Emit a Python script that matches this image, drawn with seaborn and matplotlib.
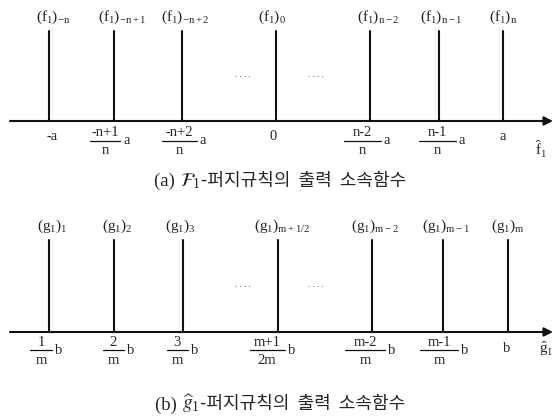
import matplotlib
matplotlib.use("Agg")
import matplotlib.pyplot as plt
from matplotlib.offsetbox import TextArea, HPacker, AnnotationBbox
import seaborn as sns
import pandas as pd

# ---- panel (a): output membership functions of the f1 fuzzy rules ----
f_names = [r"$(f_{1})_{-n}$", r"$(f_{1})_{-n+1}$", r"$(f_{1})_{-n+2}$", r"$(f_{1})_{0}$",
           r"$(f_{1})_{n-2}$", r"$(f_{1})_{n-1}$", r"$(f_{1})_{n}$"]
f_stem_x = [49, 114, 182, 276, 370, 439, 503]
# tick labels: numerator, denominator ('' = plain label), trailing factor
f_num = ["-a", "-n+1", "-n+2", "0", "n-2", "n-1", "a"]
f_den = ["", "n", "n", "", "n", "n", ""]
f_suffix = ["", "a", "a", "", "a", "a", ""]

# ---- panel (b): output membership functions of the g1 fuzzy rules ----
g_names = [r"$(g_{1})_{1}$", r"$(g_{1})_{2}$", r"$(g_{1})_{3}$", r"$(g_{1})_{m+1/2}$",
           r"$(g_{1})_{m-2}$", r"$(g_{1})_{m-1}$", r"$(g_{1})_{m}$"]
g_stem_x = [49, 114, 183, 278, 372, 443, 508]
g_num = ["1", "2", "3", "m+1", "m-2", "m-1", "b"]
g_den = ["m", "m", "m", "2m", "m", "m", ""]
g_suffix = ["b", "b", "b", "b", "b", "b", ""]

captions = [("(a) ", r"$\mathcal{F}_{1}$", "-퍼지규칙의  출력  소속함수"),
            ("(b) ", r"$\widehat{\mathit{g}}_{1}$", "-퍼지규칙의  출력  소속함수")]

sns.set_style("white")
plt.rcParams["font.family"] = ["Liberation Serif", "Noto Sans CJK KR"]
plt.rcParams["mathtext.fontset"] = "custom"
plt.rcParams["mathtext.rm"] = "Liberation Serif"
plt.rcParams["mathtext.it"] = "Liberation Serif:italic"
plt.rcParams["mathtext.bf"] = "Liberation Serif:bold"
plt.rcParams["mathtext.default"] = "regular"

W, H = 558, 418
INK = "#111111"
fig = plt.figure(figsize=(W / 100, H / 100), dpi=100)
ax = fig.add_axes([0, 0, 1, 1])
ax.set_xlim(0, W)
ax.set_ylim(H, 0)
ax.axis("off")

panels = [
    dict(names=f_names, xs=f_stem_x, num=f_num, den=f_den, suf=f_suffix,
         base=121, top=31,
         name_x=[53, 122, 185, 272, 378, 441, 503], name_y=17,
         frac_x=[52, 105, 179, 273, 362, 437, 503],
         frac_w=[0, 30, 35, 0, 37, 37, 0],
         num_y=133, bar_y=141, den_y=150, plain_y=137,
         var=r"$\hat{f}_{1}$", var_xy=(541, 149), cap_y=181),
    dict(names=g_names, xs=g_stem_x, num=g_num, den=g_den, suf=g_suffix,
         base=332, top=240,
         name_x=[52, 117, 180, 282, 375, 446, 508], name_y=226,
         frac_x=[41, 113, 177, 267, 365, 439, 507],
         frac_w=[22, 21, 21, 35, 40, 38, 0],
         num_y=342, bar_y=350, den_y=360, plain_y=349,
         var=r"$\hat{g}_{1}$", var_xy=(546, 349), cap_y=404),
]

for i, p in enumerate(panels):
    rows = []
    for k, x in enumerate(p["xs"]):
        rows.append(dict(stem=k, x=x, y=p["base"]))
        rows.append(dict(stem=k, x=x, y=p["top"]))
    df = pd.DataFrame(rows)
    sns.lineplot(data=df, x="x", y="y", units="stem", estimator=None,
                 color=INK, lw=1.5, ax=ax, legend=False)

    # horizontal axis with arrow head
    ax.annotate("", xy=(553, p["base"]), xytext=(10, p["base"]),
                arrowprops=dict(arrowstyle="-|>", lw=1.5, color=INK,
                                mutation_scale=13, shrinkA=0, shrinkB=0))

    for name, x in zip(p["names"], p["name_x"]):
        ax.text(x, p["name_y"], name, fontsize=11, ha="center", va="center")

    # tick labels below the axis, stacked fractions where needed
    for num, den, suf, cx, w in zip(p["num"], p["den"], p["suf"],
                                    p["frac_x"], p["frac_w"]):
        if not den:
            ax.text(cx, p["plain_y"], num, fontsize=10.5, ha="center", va="center")
            continue
        ax.text(cx, p["num_y"], num, fontsize=10.5, ha="center", va="center")
        ax.text(cx, p["den_y"], den, fontsize=10.5, ha="center", va="center")
        ax.plot([cx - w / 2, cx + w / 2], [p["bar_y"]] * 2, color=INK, lw=0.9)
        ax.text(cx + w / 2 + 3, p["bar_y"], suf, fontsize=10.5,
                ha="left", va="center")
    ax.text(*p["var_xy"], p["var"], fontsize=11, ha="center", va="center")

    mid = (p["base"] + p["top"]) / 2 - 1
    for dx in (243, 316):
        ax.text(dx, mid, ". . . .", fontsize=6.5, ha="center", va="center",
                color="#444444")

    pre, sym, kor = captions[i]
    box = HPacker(children=[
        TextArea(pre, textprops=dict(fontsize=13.5, family="Liberation Serif")),
        TextArea(sym, textprops=dict(fontsize=14, math_fontfamily="stix")),
        TextArea(kor, textprops=dict(fontsize=13,
                                     family=["Noto Sans CJK KR", "DejaVu Sans"])),
    ], pad=0, sep=0, align="baseline")
    ax.add_artist(AnnotationBbox(box, (280, p["cap_y"]), frameon=False,
                                 box_alignment=(0.5, 0.5), pad=0))

fig.savefig("out.png", dpi=100)
